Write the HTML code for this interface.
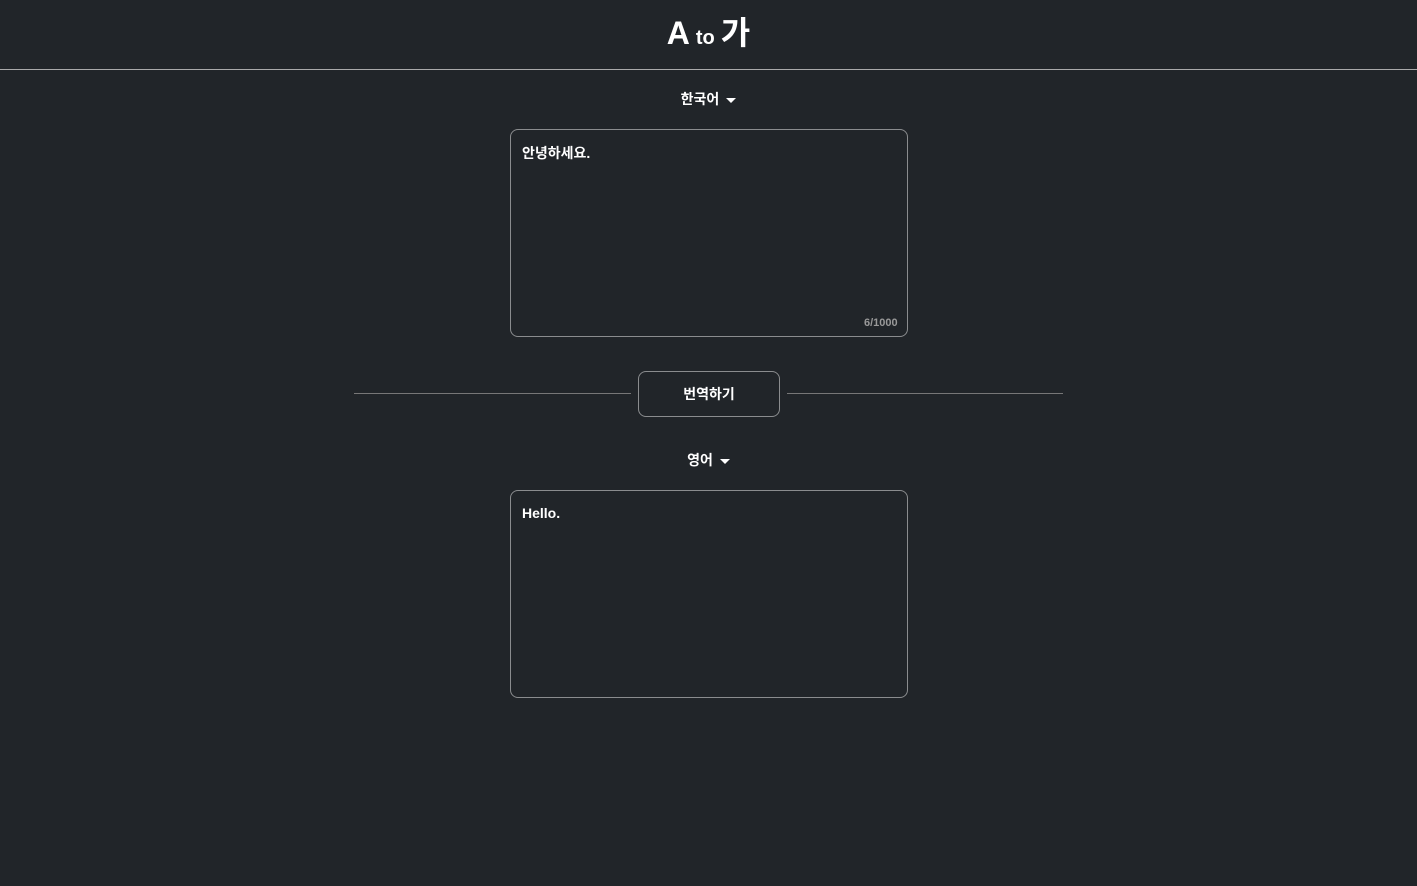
<!DOCTYPE html>
<html><head><meta charset="utf-8"><style>
body{margin:0;width:1417px;height:886px;background:#212529;color:#fff;font-family:"Liberation Sans","Noto Sans CJK KR",sans-serif;position:relative;overflow:hidden}
.abs{position:absolute}
.hdr{left:0;top:0;width:1417px;height:69px;border-bottom:1px solid #aaa;text-align:center}
.title{position:absolute;left:0;width:1417px;top:13px;text-align:center;font-size:32px;line-height:40px;font-weight:bold}
.title small{font-size:20px;margin:0 6px;font-weight:bold}
.dd{font-size:14px;font-weight:bold;width:1417px;text-align:center;left:0}
.tri{display:inline-block;width:0;height:0;border-left:5px solid transparent;border-right:5px solid transparent;border-top:5px solid #fff;vertical-align:middle;margin-left:7px}
.box{left:510px;width:396px;height:206px;border:1px solid #8a8c8e;border-radius:8px}
.txt{left:522px;font-size:14px;font-weight:bold}
.line{height:1px;background:#777;top:393px}
.btn{left:638px;top:371px;width:140px;height:44px;border:1px solid #8a8c8e;border-radius:8px;text-align:center;line-height:44px;font-size:14px;font-weight:bold}
</style></head><body>
<div class="abs hdr"></div>
<div class="title">A<small>to</small>가</div>
<div class="abs dd" style="top:89px">한국어<span class="tri"></span></div>
<div class="abs box" style="top:129px"></div>
<div class="abs txt" style="top:143px">안녕하세요.</div>
<div class="abs" style="left:864px;top:317px;font-size:11px;font-weight:bold;color:#999">6/1000</div>
<div class="abs line" style="left:354px;width:277px"></div>
<div class="abs line" style="left:787px;width:276px"></div>
<div class="abs btn">번역하기</div>
<div class="abs dd" style="top:450px">영어<span class="tri"></span></div>
<div class="abs box" style="top:490px"></div>
<div class="abs txt" style="top:505px">Hello.</div>
</body></html>
